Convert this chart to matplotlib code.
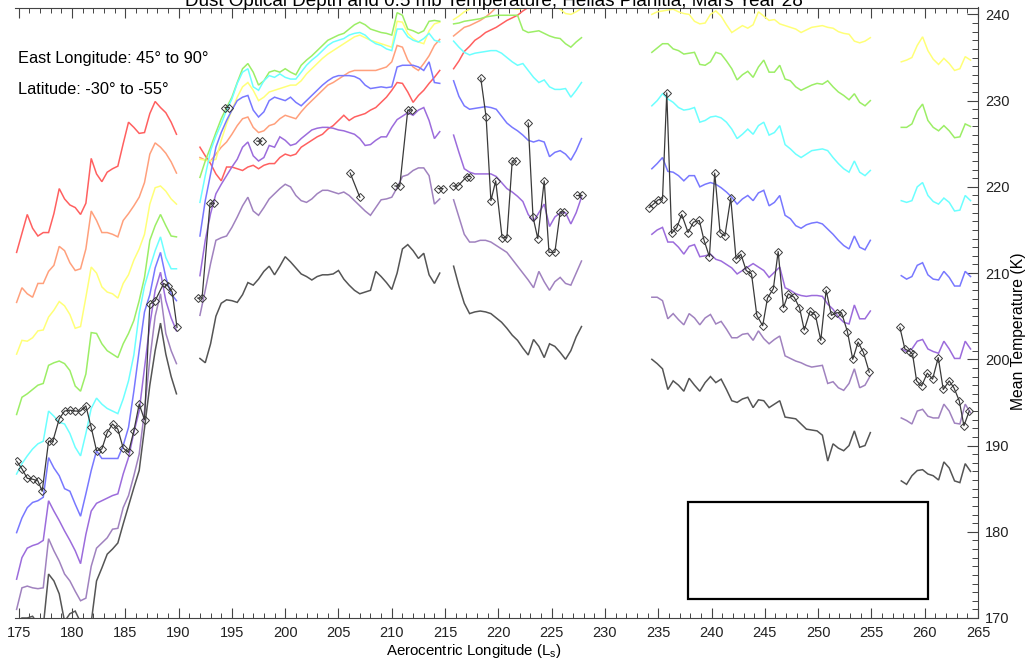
import numpy as np
import matplotlib.pyplot as plt
from matplotlib.patches import Rectangle
from matplotlib.ticker import MultipleLocator

plt.rcParams['font.family'] = ['Liberation Sans', 'DejaVu Sans']
plt.rcParams['mathtext.fontset'] = 'custom'
plt.rcParams['mathtext.rm'] = 'Liberation Sans'

# ---------------- data ----------------
# each block of retrievals starts at this Ls and is sampled every 0.5 deg
seg_start = [174.8, 192.0, 215.8, 234.4, 257.8]
ls_step = 0.5

# block A (Ls 174.8 - 189.8)
red_a = [212.4, 214.6, 216.8, 215.2, 214.3, 214.7, 214.7, 216.9, 219.8, 218.6, 217.9, 217.6, 216.8, 218.1, 223.3, 221.5,
         220.6, 221.7, 222.1, 222.4, 225.0, 227.5, 226.9, 226.2, 226.3, 228.5, 229.9, 229.2, 228.6, 227.5, 226.1]
orange_a = [206.6, 208.3, 207.6, 207.2, 208.8, 208.8, 210.2, 210.9, 213.1, 212.6, 211.2, 210.3, 210.5, 212.8, 217.2, 216.1,
            214.7, 214.7, 214.5, 214.2, 216.1, 216.9, 217.8, 218.8, 220.5, 223.8, 225.1, 224.6, 223.9, 222.9, 221.6]
yellow_a = [200.6, 202.2, 202.1, 202.5, 203.3, 203.4, 204.9, 205.7, 206.7, 206.2, 205.2, 203.6, 203.8, 207.2, 210.7, 210.0,
            208.4, 207.8, 207.6, 207.1, 208.8, 209.8, 211.5, 212.8, 214.5, 218.0, 219.9, 220.1, 219.5, 218.6, 218.0]
green_a = [193.6, 195.6, 196.0, 196.5, 197.0, 197.2, 199.3, 199.6, 199.8, 199.5, 198.7, 196.9, 196.3, 198.3, 203.1, 203.0,
           201.8, 201.0, 200.6, 200.2, 201.8, 203.0, 204.5, 206.8, 209.5, 213.8, 215.5, 216.8, 215.5, 214.3, 214.2]
cyan_a = [186.7, 187.9, 188.8, 189.6, 190.2, 190.5, 194.0, 193.4, 192.7, 192.5, 191.4, 189.8, 188.8, 191.4, 194.3, 195.5,
          194.8, 194.3, 194.0, 193.7, 195.4, 197.5, 200.5, 205.3, 208.5, 210.6, 212.6, 214.2, 211.8, 210.5, 210.5]
blue_a = [179.9, 181.6, 182.8, 183.4, 183.6, 184.0, 188.6, 187.4, 186.5, 185.0, 184.7, 183.2, 181.8, 184.4, 187.1, 189.4,
          188.5, 188.5, 188.5, 188.5, 190.0, 192.1, 196.3, 201.0, 205.5, 207.5, 210.6, 212.4, 209.5, 207.6, 206.8]
violet_a = [174.5, 177.0, 178.1, 178.4, 178.6, 179.0, 183.6, 182.4, 181.3, 180.1, 179.0, 177.8, 176.3, 179.7, 182.4, 183.3,
            183.6, 183.9, 184.2, 184.4, 186.7, 188.6, 191.5, 194.0, 199.0, 204.0, 208.0, 210.1, 206.8, 204.8, 203.3]
purple_a = [171.0, 173.5, 173.7, 173.5, 173.4, 173.5, 179.2, 177.8, 176.6, 175.1, 174.3, 173.1, 172.0, 172.3, 176.0, 178.1,
            178.7, 179.3, 180.3, 180.4, 182.8, 184.2, 186.5, 189.0, 194.0, 200.0, 205.0, 207.6, 203.0, 201.0, 199.5]
gray_a = [169.6, 170.0, 170.0, 170.2, 169.3, 169.0, 175.1, 174.3, 172.8, 169.6, 170.5, 170.8, 169.5, 168.5, 169.5, 174.3,
          175.8, 177.4, 178.0, 178.7, 180.9, 183.0, 185.1, 187.1, 192.0, 197.0, 201.0, 204.2, 200.6, 198.0, 196.0]

# block B (Ls 192.0 - 214.5)
red_b = [224.6, 223.6, 222.7, 221.5, 220.7, 222.3, 222.3, 222.1, 221.9, 222.3, 222.5, 222.1, 222.5, 222.7, 222.7, 223.4,
         223.8, 223.6, 223.8, 224.6, 225.0, 225.4, 225.8, 226.1, 226.7, 227.1, 227.7, 228.3, 227.7, 228.1, 228.3, 228.5,
         228.9, 229.2, 229.8, 230.4, 231.2, 232.1, 232.0, 231.0, 229.8, 230.6, 231.2, 232.0, 232.7, 233.5]
orange_b = [223.4, 223.1, 223.0, 223.8, 224.6, 225.2, 226.1, 227.1, 227.9, 228.1, 226.9, 226.3, 226.5, 227.1, 227.3, 227.9,
            228.3, 228.1, 227.9, 228.7, 229.4, 230.0, 230.6, 231.2, 231.8, 232.1, 232.5, 232.9, 233.3, 233.5, 233.5, 233.5,
            233.5, 233.5, 233.7, 233.9, 234.5, 236.4, 236.2, 234.7, 233.9, 233.5, 234.3, 235.2, 236.4, 237.1]
yellow_b = [223.2, 223.1, 223.0, 223.2, 225.4, 227.3, 228.9, 230.4, 231.6, 232.1, 231.2, 230.0, 230.4, 231.0, 231.2, 231.4,
            231.6, 231.8, 231.8, 232.3, 233.1, 233.7, 234.3, 234.9, 235.4, 235.8, 236.2, 236.6, 237.0, 237.4, 237.6, 237.3,
            237.0, 236.8, 236.6, 236.4, 236.2, 239.2, 239.1, 237.8, 237.2, 236.8, 236.6, 238.1, 238.9, 239.1]
green_b = [221.1, 223.0, 224.6, 226.3, 227.9, 229.2, 230.4, 232.1, 233.7, 234.3, 233.3, 231.8, 232.3, 233.3, 233.5, 233.3,
           233.7, 233.3, 233.0, 234.1, 234.7, 235.2, 235.8, 236.4, 237.0, 237.3, 237.6, 237.8, 238.3, 238.8, 239.1, 238.8,
           238.3, 238.1, 237.9, 237.8, 237.6, 240.2, 239.9, 238.3, 238.1, 237.8, 238.1, 239.2, 239.3, 239.2]
cyan_b = [218.2, 221.3, 224.2, 225.9, 227.3, 228.9, 230.2, 232.0, 233.3, 233.7, 231.6, 231.2, 232.3, 232.9, 232.7, 233.1,
          232.7, 232.5, 232.5, 233.3, 234.1, 234.7, 235.2, 235.8, 236.4, 236.8, 237.0, 237.2, 237.6, 237.8, 237.9, 237.6,
          237.0, 236.6, 236.4, 236.0, 235.8, 238.3, 238.3, 237.4, 237.0, 236.8, 237.2, 237.8, 237.0, 236.8]
blue_b = [214.3, 218.4, 221.5, 224.6, 226.3, 227.7, 228.9, 230.0, 230.4, 230.6, 228.9, 228.1, 228.7, 230.0, 230.4, 230.2,
          230.0, 230.4, 229.8, 229.4, 230.0, 230.6, 231.2, 231.8, 232.3, 232.7, 232.9, 232.9, 232.9, 232.8, 232.5, 231.8,
          231.4, 231.5, 231.6, 231.5, 231.6, 233.9, 234.1, 234.1, 234.1, 233.9, 233.5, 234.5, 232.1, 232.0]
violet_b = [209.7, 213.8, 216.9, 219.2, 220.3, 221.3, 222.3, 223.2, 224.6, 225.2, 223.6, 223.0, 223.4, 224.8, 224.6, 225.8,
            225.4, 224.8, 225.0, 225.6, 226.1, 226.6, 226.8, 226.9, 226.9, 226.8, 226.6, 226.5, 226.3, 226.1, 225.6, 224.8,
            224.9, 225.4, 225.8, 225.8, 226.9, 227.8, 228.2, 228.6, 228.3, 228.9, 229.2, 227.7, 225.6, 226.4]
purple_b = [205.1, 208.0, 211.1, 213.8, 214.1, 214.3, 215.3, 216.5, 217.8, 218.8, 217.2, 216.7, 217.6, 218.6, 219.2, 219.8,
            220.3, 220.0, 219.0, 218.4, 218.2, 218.6, 219.2, 219.6, 219.6, 219.4, 219.2, 219.4, 219.0, 218.4, 217.8, 217.2,
            216.7, 217.6, 218.5, 218.6, 218.8, 219.9, 221.2, 221.4, 221.9, 222.2, 222.2, 221.3, 218.0, 218.6]
gray_b = [200.1, 199.6, 201.8, 205.0, 206.5, 206.9, 206.8, 206.6, 207.5, 208.9, 208.6, 209.3, 210.2, 210.8, 209.8, 210.8,
          211.9, 211.3, 210.6, 209.9, 209.6, 209.2, 209.6, 209.8, 209.8, 209.9, 210.3, 209.3, 208.6, 208.0, 207.6, 207.8,
          208.0, 210.2, 209.6, 208.9, 208.1, 210.0, 212.8, 213.3, 212.6, 211.7, 212.3, 209.8, 208.8, 210.0]

# block C (Ls 215.8 - 227.8); red and orange leave the top of the plot
red_c = [233.7, 234.6, 235.7, 236.3, 237.0, 237.4, 237.9, 238.2, 238.5, 238.9, 239.3, 239.6, 239.9, 240.4, 240.8, 241.2,
         241.6, 242.0, 242.4]
orange_c = [237.5, 238.0, 238.5, 238.7, 239.0, 239.3, 239.7, 240.2, 240.8, 241.5, 242.0, 242.5]
yellow_c = [239.4, 239.8, 240.3, 240.6, 241.0, 241.3, 241.5, 241.6, 241.5, 241.7, 241.2, 240.7, 240.6, 240.7, 240.8, 241.0,
            241.2, 241.3, 241.2, 241.0, 240.6, 240.1, 240.0, 240.3, 240.7]
green_c = [238.9, 239.0, 239.2, 239.3, 239.4, 239.5, 239.7, 239.8, 239.9, 239.9, 239.9, 239.9, 239.9, 238.2, 237.9, 238.0,
           238.1, 237.8, 237.5, 237.3, 237.2, 236.6, 236.2, 236.8, 237.3]
cyan_c = [236.9, 236.2, 235.6, 235.3, 235.5, 235.6, 235.7, 235.8, 235.8, 235.5, 235.0, 234.5, 234.1, 234.3, 233.5, 232.7,
          232.1, 232.4, 231.6, 231.3, 231.3, 231.4, 230.4, 231.2, 232.1]
blue_c = [232.3, 230.5, 229.4, 229.0, 229.1, 229.2, 229.3, 229.2, 229.0, 228.2, 227.4, 226.9, 226.5, 226.0, 225.4, 225.2,
          225.4, 225.2, 223.5, 224.0, 224.2, 223.8, 223.1, 224.2, 225.6]
violet_c = [226.0, 224.0, 222.1, 221.7, 221.5, 221.5, 221.5, 221.5, 221.2, 220.5, 219.8, 219.4, 218.9, 218.3, 216.8, 216.0,
            217.0, 218.0, 215.4, 216.5, 217.0, 217.0, 215.7, 217.0, 218.8]
purple_c = [218.5, 216.5, 214.5, 213.6, 213.6, 213.8, 213.8, 213.6, 213.2, 212.8, 212.4, 211.6, 210.8, 210.0, 209.2, 208.3,
            210.2, 209.0, 208.0, 209.0, 209.5, 208.8, 208.6, 210.0, 211.4]
gray_c = [210.8, 208.5, 206.5, 205.3, 205.5, 205.6, 205.5, 205.3, 204.8, 204.3, 203.6, 202.8, 202.2, 201.3, 200.5, 202.3,
          201.5, 200.2, 201.8, 201.5, 200.8, 200.0, 201.0, 202.6, 203.8]

# block D (Ls 234.4 - 254.9); red and orange are above the plot
yellow_d = [240.0, 240.3, 240.4, 240.5, 240.6, 240.3, 240.1, 240.0, 239.2, 238.9, 239.0, 240.0, 240.4, 239.8, 238.8, 237.9,
            238.3, 238.7, 238.4, 238.8, 240.3, 239.8, 239.3, 239.4, 238.9, 238.7, 238.5, 238.3, 237.9, 238.2, 238.5, 238.6,
            238.7, 238.5, 238.4, 238.0, 237.8, 237.7, 236.9, 236.7, 236.9, 237.3]
green_d = [235.6, 236.1, 236.6, 236.6, 236.0, 235.8, 235.4, 235.5, 235.6, 234.2, 234.1, 234.5, 235.6, 235.4, 234.6, 233.7,
           232.4, 233.0, 233.4, 232.7, 233.9, 234.7, 233.3, 233.3, 234.1, 232.5, 232.3, 231.6, 231.2, 231.5, 231.8, 232.0,
           231.9, 232.3, 231.6, 231.0, 230.6, 230.1, 230.8, 229.8, 229.4, 230.0]
cyan_d = [229.4, 230.0, 230.8, 230.2, 229.8, 229.2, 228.9, 229.0, 229.2, 227.5, 227.7, 228.1, 228.2, 228.0, 227.5, 226.7,
          225.6, 226.1, 226.7, 226.1, 227.1, 227.5, 226.0, 226.3, 227.1, 224.9, 224.4, 223.8, 223.4, 223.8, 224.2, 224.3,
          224.4, 224.2, 223.4, 222.7, 222.1, 221.7, 223.0, 221.7, 221.3, 221.9]
blue_d = [222.1, 222.7, 223.4, 221.8, 221.7, 221.3, 220.7, 221.3, 221.3, 220.0, 220.3, 220.5, 220.3, 219.9, 219.4, 218.8,
          218.0, 218.6, 219.0, 218.4, 219.3, 219.6, 217.8, 218.2, 219.0, 216.7, 216.3, 215.5, 215.2, 215.6, 215.8, 215.9,
          215.7, 215.1, 214.5, 213.8, 213.2, 212.8, 214.3, 213.0, 212.7, 213.8]
violet_d = [214.5, 215.0, 215.3, 213.6, 213.6, 213.0, 212.2, 213.1, 213.3, 211.9, 212.0, 212.2, 211.6, 211.4, 211.0, 210.6,
            209.9, 210.3, 210.7, 211.1, 210.7, 210.3, 209.5, 210.1, 210.7, 208.3, 208.0, 207.6, 207.4, 207.3, 207.4, 207.4,
            207.3, 206.4, 205.8, 204.9, 204.3, 204.1, 206.3, 204.7, 204.7, 205.6]
purple_d = [207.2, 207.2, 206.8, 204.7, 205.3, 204.6, 204.0, 205.3, 204.8, 204.0, 204.8, 205.2, 204.1, 204.4, 203.5, 202.5,
            202.5, 202.9, 203.0, 202.2, 203.3, 202.4, 201.8, 202.3, 202.7, 200.4, 200.1, 199.8, 199.6, 199.3, 199.1, 199.2,
            199.3, 197.2, 197.4, 196.7, 196.4, 197.2, 198.9, 196.7, 197.0, 198.1]
gray_d = [200.0, 199.5, 198.9, 196.5, 197.5, 197.0, 196.3, 197.8, 197.0, 196.3, 197.3, 198.0, 197.3, 197.7, 196.5, 195.2,
          195.0, 195.4, 195.6, 194.4, 195.3, 195.2, 194.4, 194.8, 195.2, 193.3, 193.2, 193.1, 192.5, 191.9, 191.8, 191.7,
          191.2, 188.2, 190.2, 189.7, 189.4, 190.0, 191.7, 189.8, 190.0, 191.5]

# block E (Ls 257.8 - 264.3)
yellow_e = [234.5, 234.7, 235.0, 236.4, 237.4, 235.8, 234.8, 234.2, 234.9, 234.3, 233.5, 233.7, 235.1, 234.7]
green_e = [226.9, 226.9, 227.3, 228.8, 229.6, 227.7, 226.9, 226.5, 227.1, 226.5, 225.7, 225.8, 227.3, 227.0]
cyan_e = [218.4, 218.2, 218.4, 220.0, 220.5, 219.0, 218.3, 218.0, 218.7, 218.2, 217.2, 217.3, 219.0, 218.4]
blue_e = [209.7, 209.3, 209.6, 210.9, 211.2, 209.8, 209.3, 209.2, 210.2, 209.5, 208.5, 208.5, 210.2, 209.6]
violet_e = [201.2, 200.9, 201.2, 202.1, 202.3, 201.2, 200.9, 200.7, 202.1, 201.2, 200.1, 200.1, 202.1, 201.2]
purple_e = [193.2, 192.9, 192.5, 194.0, 194.2, 193.4, 193.2, 193.2, 194.8, 194.0, 192.6, 192.5, 194.8, 193.8]
gray_e = [185.9, 185.5, 186.5, 187.1, 187.2, 186.7, 186.5, 186.0, 188.1, 187.4, 185.9, 185.7, 187.9, 187.0]

# dust optical depth trace (drawn on the temperature frame), nan = break
nan = np.nan
dust_ls = [174.8, 175.3, 175.8, 176.3, 176.8, 177.2, 177.8, 178.2, 178.8, 179.3, 179.8, 180.3, 180.8, 181.3, 181.8, 182.3,
           182.8, 183.3, 183.8, 184.3, 184.8, 185.3, 185.8, 186.3, 186.8, 187.3, 187.8, 188.6, 189.0, 189.4, 189.85, nan,
           191.8, 192.2, 192.95, 193.3, nan, 194.35, 194.75, nan, 197.35, 197.8, nan, 206.1, 207.0, nan,
           210.3, 210.75, 211.5, 211.9, nan, 214.35, 214.8, nan,
           215.75, 216.2, 217.05, 217.35, nan, 218.35, 218.85, 219.3, 219.75, 220.35, 220.8, 221.3, 221.65, nan,
           222.8, 223.25, 223.7, 224.3, 224.75, 225.3, 225.8, 226.15, nan, 227.35, 227.85, nan,
           234.15, 234.55, 235.0, 235.4, 235.8, 236.25, 236.75, 237.2, 237.8, 238.3, 238.85, 239.3, 239.8, 240.3, 240.8,
           241.25, 241.8, 242.3, 242.75, 243.25, 243.75, 244.25, 244.8, 245.25, 245.8, 246.25, 246.75, 247.2, 247.75,
           248.25, 248.7, 249.25, 249.75, 250.25, 250.75, 251.25, 251.75, 252.2, 252.75, 253.25, 253.75, 254.25, 254.8, nan,
           257.67, 258.14, 258.61, 258.86, 259.24, 259.71, 260.24, 260.74, 261.27, 261.74, 262.3, 262.74, 263.24, 263.68,
           264.18]
dust_val = [188.2, 187.3, 186.2, 186.1, 185.9, 184.7, 190.5, 190.5, 193.1, 194.0, 194.1, 194.0, 194.0, 194.6, 192.1, 189.4,
            189.6, 191.5, 192.5, 191.9, 189.7, 189.2, 191.7, 194.8, 193.0, 206.4, 206.8, 208.8, 208.5, 207.8, 203.7, nan,
            207.1, 207.1, 218.1, 218.1, nan, 229.2, 229.2, nan, 225.3, 225.3, nan, 221.6, 218.8, nan,
            220.1, 220.1, 228.9, 228.9, nan, 219.8, 219.8, nan,
            220.1, 220.1, 221.2, 221.2, nan, 232.6, 228.1, 218.4, 220.7, 214.1, 214.1, 223.0, 223.0, nan,
            227.4, 216.5, 214.0, 220.7, 212.4, 212.4, 217.1, 217.1, nan, 219.0, 219.0, nan,
            217.6, 218.0, 218.5, 218.6, 230.9, 214.6, 215.3, 216.8, 214.7, 215.9, 216.1, 213.8, 211.9, 221.6, 214.7,
            214.3, 218.7, 211.6, 212.2, 210.3, 209.9, 205.1, 203.9, 207.1, 208.2, 212.5, 206.0, 207.6, 207.2,
            206.0, 203.4, 205.6, 205.1, 202.2, 208.0, 205.1, 205.4, 205.4, 203.2, 200.0, 202.0, 200.8, 198.5, nan,
            203.7, 201.2, 200.9, 200.6, 197.5, 196.9, 198.4, 197.7, 200.2, 196.5, 197.5, 196.7, 195.2, 192.3, 194.0]

line_colors = {'red': '#ff6060', 'orange': '#ffa07c', 'yellow': '#ffff78', 'green': '#9cee66',
               'cyan': '#6cffff', 'blue': '#7878ff', 'violet': '#9c6cdc', 'purple': '#a082bf', 'gray': '#555555'}

blocks = [
    {'red': red_a, 'orange': orange_a, 'yellow': yellow_a, 'green': green_a, 'cyan': cyan_a,
     'blue': blue_a, 'violet': violet_a, 'purple': purple_a, 'gray': gray_a},
    {'red': red_b, 'orange': orange_b, 'yellow': yellow_b, 'green': green_b, 'cyan': cyan_b,
     'blue': blue_b, 'violet': violet_b, 'purple': purple_b, 'gray': gray_b},
    {'red': red_c, 'orange': orange_c, 'yellow': yellow_c, 'green': green_c, 'cyan': cyan_c,
     'blue': blue_c, 'violet': violet_c, 'purple': purple_c, 'gray': gray_c},
    {'yellow': yellow_d, 'green': green_d, 'cyan': cyan_d, 'blue': blue_d,
     'violet': violet_d, 'purple': purple_d, 'gray': gray_d},
    {'yellow': yellow_e, 'green': green_e, 'cyan': cyan_e, 'blue': blue_e,
     'violet': violet_e, 'purple': purple_e, 'gray': gray_e},
]

legend_box = (237.8, 172.2, 22.5, 11.2)   # empty key box: Ls, T, width, height

# ---------------- plot ----------------
fig = plt.figure(figsize=(10.28, 6.64), dpi=100)
ax = fig.add_axes([15 / 1028, 46 / 664, 963 / 1028, 610.5 / 664])

for start, block in zip(seg_start, blocks):
    for name, vals in block.items():
        x = start + ls_step * np.arange(len(vals))
        ax.plot(x, vals, color=line_colors[name], lw=1.1, solid_joinstyle='miter')

ax.plot(dust_ls, dust_val, color='#3a3a3a', lw=0.9, marker='D', ms=3.8,
        mfc='none', mec='#3a3a3a', mew=0.7)

ax.add_patch(Rectangle(legend_box[:2], legend_box[2], legend_box[3],
                       fill=False, ec='black', lw=1.6))

ax.set_xlim(174.65, 265)
ax.set_ylim(170, 240.8)
ax.xaxis.set_major_locator(MultipleLocator(5))
ax.xaxis.set_minor_locator(MultipleLocator(1))
ax.yaxis.set_major_locator(MultipleLocator(10))
ax.yaxis.set_minor_locator(MultipleLocator(1))
ax.yaxis.tick_right()
ax.tick_params(axis='x', which='both', direction='in', top=True, bottom=True,
               labelsize=10.5, pad=6, color='#444444', labelcolor='#222222')
ax.tick_params(axis='x', which='major', length=7, width=0.8)
ax.tick_params(axis='x', which='minor', length=3.5, width=0.7)
ax.tick_params(axis='y', which='both', direction='in', left=False, right=True,
               labelsize=10.5, pad=5, color='#444444', labelcolor='#222222')
ax.tick_params(axis='y', which='major', length=8, width=0.8)
ax.tick_params(axis='y', which='minor', length=4, width=0.7)
ax.set_xticks(np.arange(175, 266, 5))
ax.set_yticks(np.arange(170, 241, 10))
for side in ['top', 'bottom', 'right']:
    ax.spines[side].set_color('#444444')
    ax.spines[side].set_linewidth(0.8)
ax.spines['left'].set_visible(False)

fig.text(494 / 1028, 1 - 6 / 664,
         'Dust Optical Depth and 0.5 mb Temperature, Hellas Planitia, Mars Year 28',
         ha='center', va='baseline', fontsize=13.6)
fig.text(18 / 1028, 1 - 58 / 664, 'East Longitude: 45° to 90°', va='center', fontsize=11.8)
fig.text(18 / 1028, 1 - 90 / 664, 'Latitude: -30° to -55°', va='center', fontsize=11.8)
fig.text(474 / 1028, 1 - 651 / 664, r'Aerocentric Longitude (L$_\mathrm{s}$)',
         ha='center', va='center', fontsize=10.8)
fig.text(1018 / 1028, 1 - 331 / 664, 'Mean Temperature (K)', rotation=90,
         ha='center', va='center', fontsize=11.3)

fig.savefig('out.png', dpi=100)
